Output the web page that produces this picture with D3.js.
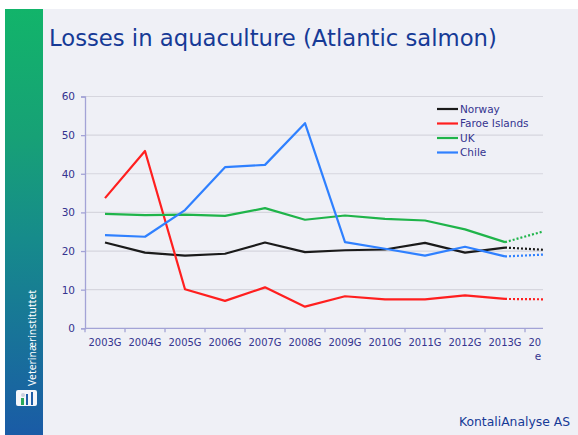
<!DOCTYPE html>
<html>
<head>
<meta charset="utf-8">
<script src="https://cdn.jsdelivr.net/npm/d3@7"></script>
<style>
  html, body { margin: 0; padding: 0; background: #fff; }
  svg { display: block; }
</style>
</head>
<body>
<svg id="chart"></svg>
<script>
const width = 578;
const height = 435;

const years = ['2003G', '2004G', '2005G', '2006G', '2007G', '2008G', '2009G',
  '2010G', '2011G', '2012G', '2013G', '2014e'];
const yTicks = [0, 10, 20, 30, 40, 50, 60];

// last value of each series is the estimate (drawn dotted)
const norway = [22.2, 19.6, 18.8, 19.3, 22.2, 19.7, 20.2, 20.4, 22.1, 19.6, 20.9, 20.3];
const faroe = [33.7, 45.9, 10.1, 7.1, 10.6, 5.6, 8.3, 7.5, 7.5, 8.5, 7.6, 7.5];
const uk = [29.6, 29.3, 29.4, 29.1, 31.1, 28.1, 29.2, 28.3, 27.9, 25.6, 22.3, 25.2];
const chile = [24.1, 23.7, 30.6, 41.7, 42.3, 53.1, 22.3, 20.6, 18.8, 21.1, 18.6, 19.1];

const seriesNames = ['Norway', 'Faroe Islands', 'UK', 'Chile'];
const seriesValues = [norway, faroe, uk, chile];
const colors = ['#1a1a1a', '#ff1f1f', '#1fb44a', '#2f80ff'];

const textColor = '#34338f';
const titleColor = '#163a96';

const plot = {left: 85, top: 96.5, bottom: 328.3, right: 565, clipRight: 543};

const chart = d3.select('#chart')
  .attr('width', width)
  .attr('height', height);

// page background
chart.append('rect')
  .attr('x', 0).attr('y', 0)
  .attr('width', width).attr('height', height)
  .attr('fill', '#fff');
chart.append('rect')
  .attr('x', 5).attr('y', 9)
  .attr('width', width - 5).attr('height', height - 9)
  .attr('fill', '#eff0f6');

// sidebar
const grad = chart.append('defs').append('linearGradient')
  .attr('id', 'side')
  .attr('x1', 0).attr('y1', 0).attr('x2', 0).attr('y2', 1);
grad.append('stop').attr('offset', '0%').attr('stop-color', '#12b46a');
grad.append('stop').attr('offset', '30%').attr('stop-color', '#17a176');
grad.append('stop').attr('offset', '55%').attr('stop-color', '#168a8c');
grad.append('stop').attr('offset', '100%').attr('stop-color', '#1a5ba6');

chart.append('rect')
  .attr('x', 5).attr('y', 9)
  .attr('width', 38).attr('height', height - 9)
  .attr('fill', 'url(#side)');

chart.append('text')
  .attr('transform', 'translate(36, 386) rotate(-90)')
  .attr('font-family', 'Noto Sans, sans-serif')
  .attr('font-size', 11)
  .attr('fill', '#fff')
  .attr('textLength', 96)
  .attr('lengthAdjust', 'spacingAndGlyphs')
  .text('Veterinærinstituttet');

const logo = chart.append('g').attr('transform', 'translate(16, 390)');
logo.append('rect')
  .attr('width', 21).attr('height', 16).attr('rx', 2)
  .attr('fill', '#f4f6fa');
logo.append('rect').attr('x', 5).attr('y', 8).attr('width', 3).attr('height', 7).attr('fill', '#2aa85a');
logo.append('rect').attr('x', 10).attr('y', 4).attr('width', 2).attr('height', 11).attr('fill', '#1f5ea8');
logo.append('rect').attr('x', 15).attr('y', 2).attr('width', 2).attr('height', 13).attr('fill', '#1f5ea8');
logo.append('circle').attr('cx', 7).attr('cy', 5).attr('r', 2).attr('fill', '#c8cfdc');

// title
const title = chart.append('text')
  .attr('x', 49)
  .attr('y', 46)
  .attr('font-family', 'DejaVu Sans, sans-serif')
  .attr('font-size', 25)
  .attr('fill', titleColor)
  .text('Losses in aquaculture (Atlantic salmon)');
const tl = title.node().getComputedTextLength();
title.attr('font-size', 25 * 448 / tl);

// footer
chart.append('text')
  .attr('x', 570)
  .attr('y', 426)
  .attr('text-anchor', 'end')
  .attr('font-family', 'DejaVu Sans, sans-serif')
  .attr('font-size', 12.5)
  .attr('fill', titleColor)
  .attr('textLength', 111)
  .attr('lengthAdjust', 'spacingAndGlyphs')
  .text('KontaliAnalyse AS');

// scales
const xScale = d3.scaleBand()
  .domain(years)
  .range([plot.left, plot.right]);

const yScale = d3.scaleLinear()
  .domain([0, 60])
  .range([plot.bottom, plot.top]);

const xMid = (d) => xScale(d) + xScale.bandwidth() / 2;

chart.append('clipPath')
  .attr('id', 'plotClip')
  .append('rect')
  .attr('x', 0).attr('y', 0)
  .attr('width', plot.clipRight).attr('height', height);

chart.append('clipPath')
  .attr('id', 'labelClip')
  .append('rect')
  .attr('x', 0).attr('y', 0)
  .attr('width', plot.clipRight - 1.5).attr('height', height);

// gridlines
chart.append('g')
  .attr('clip-path', 'url(#plotClip)')
  .selectAll('line')
  .data(yTicks.filter((t) => t > 0))
  .enter()
  .append('line')
  .attr('x1', plot.left)
  .attr('x2', plot.right)
  .attr('y1', (d) => yScale(d))
  .attr('y2', (d) => yScale(d))
  .attr('stroke', '#d6d6de')
  .attr('stroke-width', 1.2);

// axes
const yAxis = chart.append('g')
  .attr('transform', `translate(${plot.left}, 0)`)
  .call(d3.axisLeft(yScale).tickValues(yTicks).tickSize(4).tickPadding(6));

const xAxis = chart.append('g')
  .attr('transform', `translate(0, ${plot.bottom})`)
  .attr('clip-path', 'url(#labelClip)')
  .call(d3.axisBottom(xScale).tickSize(0).tickPadding(10));

[yAxis, xAxis].forEach((ax) => {
  ax.select('.domain').attr('stroke', '#a3a3d6').attr('stroke-width', 1.3);
  ax.selectAll('.tick line').attr('stroke', '#a3a3d6').attr('stroke-width', 1.3);
  ax.selectAll('text')
    .attr('fill', textColor)
    .attr('font-family', 'DejaVu Sans, sans-serif')
    .attr('font-size', 10.5);
});
xAxis.select('.domain').remove();
chart.append('line')
  .attr('x1', plot.left).attr('x2', plot.clipRight)
  .attr('y1', plot.bottom).attr('y2', plot.bottom)
  .attr('stroke', '#a3a3d6').attr('stroke-width', 1.3);

xAxis.selectAll('text')
  .attr('textLength', 33)
  .attr('lengthAdjust', 'spacingAndGlyphs');

// estimate label wraps: "2014G" then "e"
xAxis.selectAll('.tick')
  .filter((d) => d === '2014e')
  .each(function () {
    const t = d3.select(this).select('text');
    t.text('2014G');
    d3.select(this).append('text')
      .attr('x', -7)
      .attr('y', 24)
      .attr('dy', '0.71em')
      .attr('fill', textColor)
      .attr('font-family', 'DejaVu Sans, sans-serif')
      .attr('font-size', 10.5)
      .text('e');
  });

// band boundary ticks
chart.append('g')
  .selectAll('line')
  .data(years.slice(1))
  .enter()
  .append('line')
  .attr('x1', (d) => xScale(d))
  .attr('x2', (d) => xScale(d))
  .attr('y1', plot.bottom)
  .attr('y2', plot.bottom + 4)
  .attr('stroke', '#a3a3d6')
  .attr('stroke-width', 1.3);
chart.append('line')
  .attr('x1', plot.left).attr('x2', plot.left)
  .attr('y1', plot.bottom).attr('y2', plot.bottom + 4)
  .attr('stroke', '#a3a3d6').attr('stroke-width', 1.3);

// series lines
const line = d3.line()
  .x((d) => xMid(d.year))
  .y((d) => yScale(d.value));

const linesG = chart.append('g').attr('clip-path', 'url(#plotClip)');

seriesValues.forEach((vals, i) => {
  const pts = vals.map((value, j) => ({year: years[j], value}));
  const n = pts.length;
  linesG.append('path')
    .datum(pts.slice(0, n - 1))
    .attr('d', line)
    .attr('fill', 'none')
    .attr('stroke', colors[i])
    .attr('stroke-width', 2.2)
    .attr('stroke-linejoin', 'round');
  linesG.append('path')
    .datum(pts.slice(n - 2))
    .attr('d', line)
    .attr('fill', 'none')
    .attr('stroke', colors[i])
    .attr('stroke-width', 2.2)
    .attr('stroke-dasharray', '2,2');
});

// legend
const legend = chart.append('g')
  .selectAll('g')
  .data(seriesNames)
  .enter()
  .append('g')
  .attr('transform', (d, i) => `translate(437, ${109 + i * 14.5})`);

legend.append('line')
  .attr('x1', 0).attr('x2', 21)
  .attr('stroke', (d, i) => colors[i])
  .attr('stroke-width', 2.2);

legend.append('text')
  .attr('x', 23)
  .attr('dy', '0.35em')
  .attr('fill', textColor)
  .attr('font-family', 'DejaVu Sans, sans-serif')
  .attr('font-size', 10.5)
  .text((d) => d);
</script>
</body>
</html>
